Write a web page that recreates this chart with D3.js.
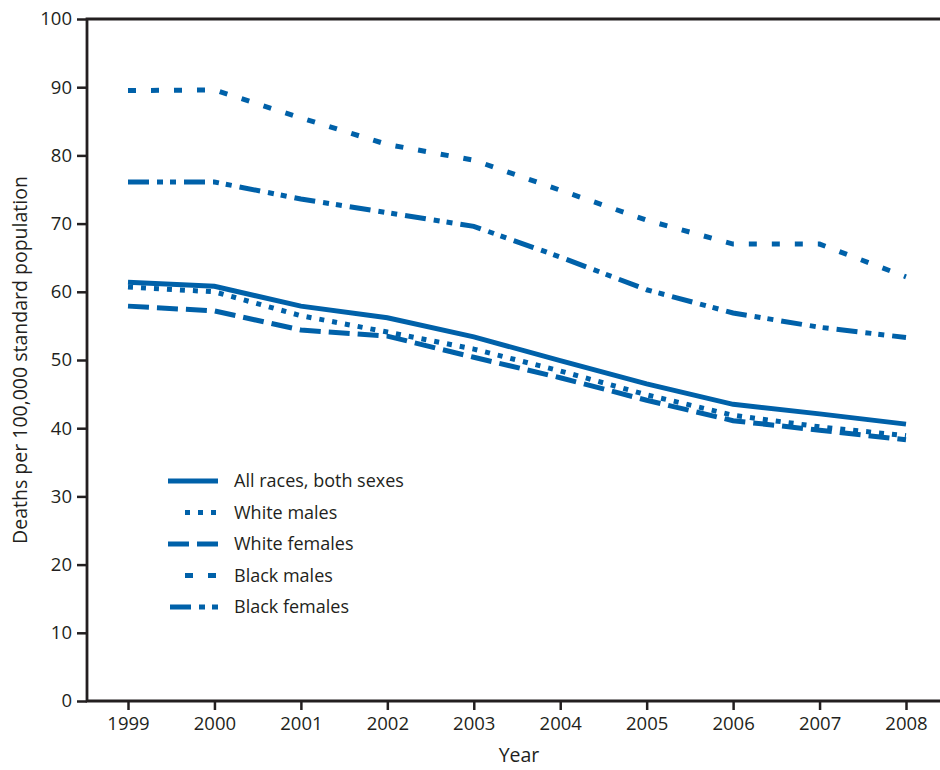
<!DOCTYPE html>
<html>
<head>
<meta charset="utf-8">
<script src="https://cdn.jsdelivr.net/npm/d3@7"></script>
<style>
  body { margin: 0; background: #fff; }
  text { font-family: "Open Sans", "Noto Sans", sans-serif; fill: #231f20; }
</style>
</head>
<body>
<div id="chart"></div>
<script>
// data
const years = [1999, 2000, 2001, 2002, 2003, 2004, 2005, 2006, 2007, 2008]
const allRaces = [61.4, 60.8, 57.9, 56.2, 53.4, 49.9, 46.5, 43.5, 42.1, 40.6]
const whiteMales = [60.7, 60.0, 56.5, 54.1, 51.6, 48.4, 44.9, 41.9, 40.2, 38.9]
const whiteFemales = [57.9, 57.2, 54.4, 53.5, 50.4, 47.4, 44.1, 41.1, 39.7, 38.3]
const blackMales = [89.5, 89.6, 85.5, 81.6, 79.3, 74.9, 70.5, 67.0, 67.0, 62.2]
const blackFemales = [76.1, 76.1, 73.6, 71.6, 69.6, 65.1, 60.3, 56.9, 54.8, 53.3]
const yTicks = [0, 10, 20, 30, 40, 50, 60, 70, 80, 90, 100]

const series = [
  { name: "All races, both sexes", values: allRaces, dash: null, legendStart: 0 },
  { name: "White males", values: whiteMales, dash: "5,8", legendStart: 17 },
  { name: "White females", values: whiteFemales, dash: "21,8", legendStart: 0 },
  { name: "Black males", values: blackMales, dash: "8,15", legendStart: 17 },
  { name: "Black females", values: blackFemales, dash: "21,8,6,7,6,8", legendStart: 2 },
]

const width = 940,
  height = 770
const blue = "#0061a9"
const ink = "#231f20"

const svg = d3.select("#chart").append("svg").attr("width", width).attr("height", height)

const x = d3.scaleLinear().domain([1999, 2008]).range([128, 906])
const y = d3.scaleLinear().domain([0, 100]).range([701, 19])
const left = 87,
  right = 940

// y axis ticks
const yAxis = svg
  .append("g")
  .attr("transform", `translate(${left},0)`)
  .call(d3.axisLeft(y).tickValues(yTicks).tickSize(10).tickPadding(5))
yAxis.select(".domain").remove()
yAxis.selectAll(".tick line").attr("stroke", ink).attr("stroke-width", 2.5)
yAxis.selectAll(".tick text").style("font-size", "18.5px").attr("fill", ink)

// x axis ticks
const xAxis = svg
  .append("g")
  .attr("transform", `translate(0,${y(0)})`)
  .call(d3.axisBottom(x).tickValues(years).tickFormat(d3.format("d")).tickSize(9).tickPadding(7))
xAxis.select(".domain").remove()
xAxis.selectAll(".tick line").attr("stroke", ink).attr("stroke-width", 2.5)
xAxis.selectAll(".tick text").style("font-size", "18.5px").attr("fill", ink)

// frame: left, top, bottom
svg
  .append("path")
  .attr("d", `M${right},${y(100)}H${left}V${y(0)}H${right}`)
  .attr("fill", "none")
  .attr("stroke", ink)
  .attr("stroke-width", 2.8)

// lines
const line = d3
  .line()
  .x((d, i) => x(years[i]))
  .y((d) => y(d))

svg
  .selectAll(".series")
  .data(series)
  .enter()
  .append("path")
  .attr("class", "series")
  .attr("d", (d) => line(d.values))
  .attr("fill", "none")
  .attr("stroke", blue)
  .attr("stroke-width", 5)
  .attr("stroke-dasharray", (d) => d.dash)

// legend
const legend = svg
  .append("g")
  .attr("transform", "translate(168,481)")
  .selectAll("g")
  .data(series)
  .enter()
  .append("g")
  .attr("transform", (d, i) => `translate(0,${i * 31.5})`)

legend
  .append("line")
  .attr("x1", (d) => d.legendStart)
  .attr("x2", 50)
  .attr("stroke", blue)
  .attr("stroke-width", 5)
  .attr("stroke-dasharray", (d) => d.dash)

legend
  .append("text")
  .attr("x", 66)
  .attr("dy", "0.35em")
  .style("font-size", "18px")
  .text((d) => d.name)

// axis titles
svg
  .append("text")
  .attr("x", 519)
  .attr("y", 755)
  .attr("text-anchor", "middle")
  .attr("dy", "0.35em")
  .style("font-size", "19.5px")
  .text("Year")

svg
  .append("text")
  .attr("transform", `translate(20,${y(50)}) rotate(-90)`)
  .attr("text-anchor", "middle")
  .attr("dy", "0.35em")
  .style("font-size", "19.5px")
  .text("Deaths per 100,000 standard population")
</script>
</body>
</html>
